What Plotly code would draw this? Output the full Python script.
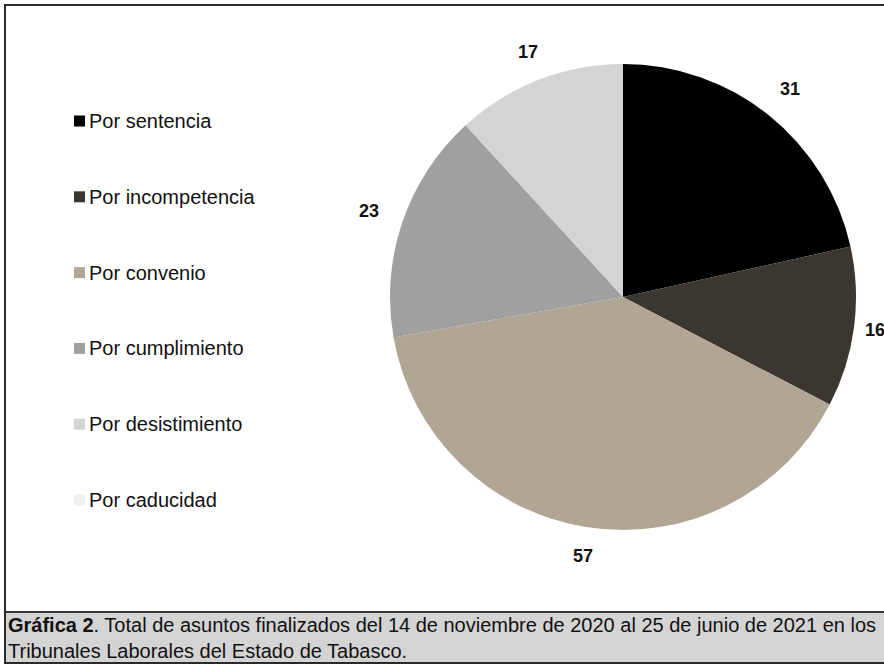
import math
import plotly.graph_objects as go

W, H = 884, 665

# Data
categories = ["Por sentencia", "Por incompetencia", "Por convenio",
              "Por cumplimiento", "Por desistimiento", "Por caducidad"]
values = [31, 16, 57, 23, 17, 0]
colors = ["#000000", "#3b362f", "#b1a594", "#a0a0a0", "#d4d4d4", "#f0f0f0"]

caption_bold = "Gráfica 2"
caption_rest = (". Total de asuntos finalizados del 14 de noviembre de 2020 al 25 de junio de 2021 en los"
                "<br>Tribunales Laborales del Estado de Tabasco.")

# Layout constants (pixels)
CX, CY, R = 623, 297, 233
label_radius = [1.145, 1.09, 1.125, 1.15, 1.13, 1.15]
FONT = "Liberation Sans, Arial"


def px(x):
    return x / W


def py(y):
    return 1 - y / H


fig = go.Figure()
fig.add_trace(go.Pie(
    labels=categories,
    values=values,
    marker=dict(colors=colors, line=dict(width=0)),
    sort=False,
    direction="clockwise",
    rotation=0,
    textinfo="none",
    hoverinfo="label+value",
    showlegend=False,
    domain=dict(x=[px(CX - R), px(CX + R)], y=[py(CY + R), py(CY - R)]),
))

annotations = []
shapes = []

# value labels outside each slice, at the slice's mid-angle
total = sum(values)
start = 0.0
for v, k in zip(values, label_radius):
    span = v / total * 360
    if v > 0:
        mid = math.radians(start + span / 2)
        lx = CX + math.sin(mid) * R * k
        ly = CY - math.cos(mid) * R * k
        annotations.append(dict(
            x=px(lx), y=py(ly), xref="paper", yref="paper",
            text=f"<b>{v}</b>", showarrow=False,
            font=dict(family=FONT, size=18, color="#111111"),
            xanchor="center", yanchor="middle",
        ))
    start += span

# legend drawn at the left
leg_y0, leg_step = 121, 75.8
for i, (name, col) in enumerate(zip(categories, colors)):
    yc = leg_y0 + i * leg_step
    shapes.append(dict(type="rect", xref="paper", yref="paper",
                       x0=px(74), x1=px(85), y0=py(yc + 5.5), y1=py(yc - 5.5),
                       fillcolor=col, line=dict(width=0)))
    annotations.append(dict(
        x=px(87), y=py(yc), xref="paper", yref="paper",
        text=name, showarrow=False,
        font=dict(family=FONT, size=20, color="#111111"),
        xanchor="left", yanchor="middle",
    ))

# caption box
shapes.append(dict(type="rect", xref="paper", yref="paper",
                   x0=px(5), x1=px(W + 5), y0=py(663), y1=py(612),
                   fillcolor="#d4d4d4", line=dict(color="#3a3a3a", width=2)))
# outer frame
shapes.append(dict(type="rect", xref="paper", yref="paper",
                   x0=px(5), x1=px(W + 5), y0=py(663), y1=py(5),
                   fillcolor="rgba(0,0,0,0)", line=dict(color="#2a2a2a", width=2)))

annotations.append(dict(
    x=px(6), y=py(638), xref="paper", yref="paper",
    text=f"<b>{caption_bold}</b>{caption_rest}", showarrow=False, align="left",
    font=dict(family=FONT, size=20, color="#111111"),
    xanchor="left", yanchor="middle",
))

fig.update_layout(
    width=W, height=H,
    margin=dict(l=0, r=0, t=0, b=0),
    paper_bgcolor="white", plot_bgcolor="white",
    shapes=shapes, annotations=annotations,
)

fig.write_html("out.html")
